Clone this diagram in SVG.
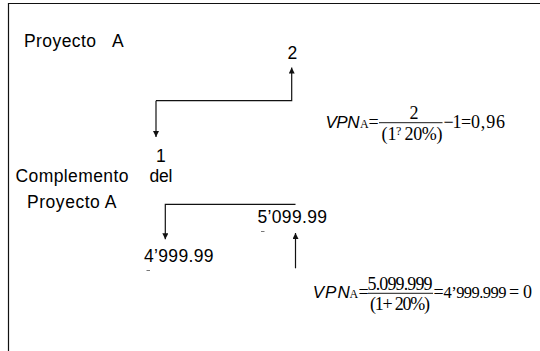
<svg xmlns="http://www.w3.org/2000/svg" width="540" height="351" viewBox="0 0 540 351">
<style>
.lbl{font-family:"Liberation Sans",Arial,sans-serif;font-size:17.5px;fill:#000}
.vpn{font-family:"Liberation Sans",Arial,sans-serif;font-style:italic;font-size:17px;fill:#000}
.m{font-family:"Liberation Serif","Times New Roman",serif;font-size:18px;fill:#000}
.ms{font-family:"Liberation Serif","Times New Roman",serif;font-size:12px;fill:#000}
.ln{fill:none;stroke:#111;stroke-width:1.2}
.fl{stroke:#000;stroke-width:0.9}
</style>
<defs>
<marker id="ah" viewBox="0 0 10 10" refX="10" refY="5" markerWidth="6" markerHeight="6" markerUnits="userSpaceOnUse" orient="auto">
<path d="M0,0 L10,5 L0,10 z" fill="#111"/>
</marker>
</defs>
<g id="frame"><path class="ln" d="M8.5 352 V3.5 H541"/></g>
<g id="proyecto-a"><text class="lbl" x="24" y="47" textLength="72">Proyecto</text><text class="lbl" x="112" y="47">A</text></g>
<g id="n2"><text class="lbl" x="287.5" y="58.5">2</text></g>
<g id="n1"><text class="lbl" x="156" y="161.5">1</text></g>
<g id="complemento"><text class="lbl" x="15.5" y="181.5" textLength="113">Complemento</text><text class="lbl" x="149.5" y="181.5" textLength="23">del</text><text class="lbl" x="27" y="208" textLength="89.5">Proyecto A</text></g>
<g id="v5099"><text class="lbl" x="257.5" y="222.5" textLength="69.5">5’099.99</text><path d="M261 231.5 H264.5" stroke="#777" stroke-width="1"/></g>
<g id="v4999"><text class="lbl" x="144" y="261.5" textLength="69.5">4’999.99</text><path d="M146.5 270.5 H150" stroke="#777" stroke-width="1"/></g>
<g id="connectors">
<path class="ln" d="M156 100.7 H291.7 V67.5" marker-end="url(#ah)"/>
<path class="ln" d="M156 100.7 V137" marker-end="url(#ah)"/>
<path class="ln" d="M295.5 204.3 H165.3 V239.3" marker-end="url(#ah)"/>
<path class="ln" d="M295.5 268.3 V233" marker-end="url(#ah)"/>
</g>
<g id="formula1">
<text class="vpn" x="325.5" y="128" textLength="34">VPN</text>
<text class="ms" x="360" y="128">A</text>
<text class="m" x="368.5" y="128">=</text>
<path class="fl" d="M379 122.7 H442.5"/>
<text class="m" x="409.5" y="119.3">2</text>
<text class="m" x="381.5" y="139.5">(1</text>
<text class="ms" x="396" y="135">?</text>
<text class="m" x="404.5" y="139.5" textLength="38">20%)</text>
<text class="m" x="443.5" y="128">−</text>
<text class="m" x="452.5" y="128">1</text>
<text class="m" x="461" y="128">=</text>
<text class="m" x="471" y="128" textLength="34">0,96</text>
</g>
<g id="formula2">
<text class="vpn" x="312.7" y="298" textLength="37">VPN</text>
<text class="ms" x="349.5" y="298">A</text>
<text class="m" x="358.5" y="298">=</text>
<path class="fl" d="M368 293.3 H433"/>
<text class="m" x="367.5" y="289.5" textLength="65">5.099.999</text>
<text class="m" x="370" y="310" textLength="60">(1+ 20%)</text>
<text class="m" x="433.5" y="298">=</text>
<text class="m" x="443.5" y="298" style="font-size:16.5px" textLength="63">4’999.999</text>
<text class="m" x="509" y="298">=</text>
<text class="m" x="523" y="298">0</text>
</g>
</svg>
